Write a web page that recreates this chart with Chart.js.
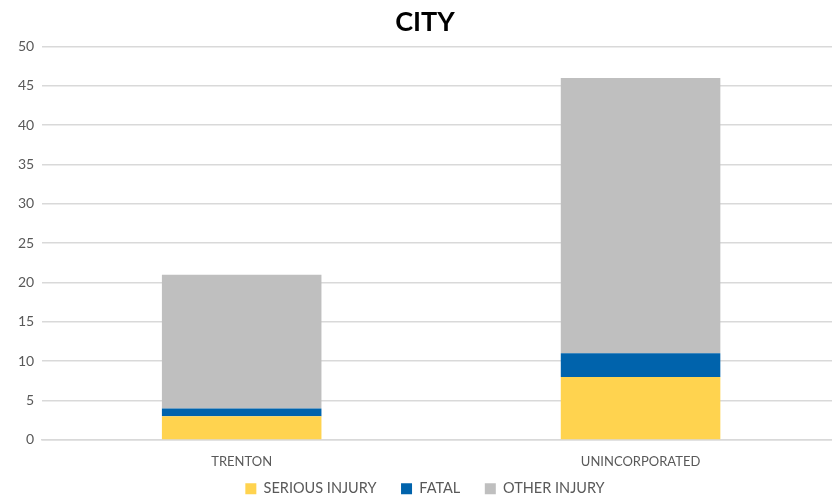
<html lang="en">
<head>
    <meta charset="UTF-8">
    <title>City</title>
    <script src="https://cdn.jsdelivr.net/npm/chart.js@4.4.1/dist/chart.umd.min.js"></script>
    <style>
        body { margin: 0; background: #fff; overflow: hidden; }
        .wrap { width: 840px; height: 504px; }
    </style>
</head>
<body>
    <div class="wrap"><canvas id="myChart"></canvas></div>

    <script>
        const categories = ['TRENTON', 'UNINCORPORATED'];
        const seriousInjury = [3, 8];
        const fatal = [1, 3];
        const otherInjury = [17, 35];
        const yTicks = [0, 5, 10, 15, 20, 25, 30, 35, 40, 45, 50];

        const fontFamily = 'Lato, "Open Sans", sans-serif';

        let ctx = document.getElementById('myChart').getContext('2d');
        let cityChart = new Chart(ctx, {
            type: 'bar',
            data: {
                labels: categories,
                datasets: [
                    { label: 'SERIOUS INJURY', data: seriousInjury, backgroundColor: '#FFD34F' },
                    { label: 'FATAL', data: fatal, backgroundColor: '#0063AC' },
                    { label: 'OTHER INJURY', data: otherInjury, backgroundColor: '#BFBFBF' }
                ]
            },
            options: {
                responsive: true,
                maintainAspectRatio: false,
                animation: false,
                layout: { padding: { left: 10, right: 0, top: 0, bottom: -2 } },
                datasets: { bar: { categoryPercentage: 0.4, barPercentage: 1.0 } },
                scales: {
                    x: {
                        stacked: true,
                        grid: { display: false },
                        border: { color: '#D9D9D9', width: 1.5 },
                        ticks: { color: '#595959', font: { family: fontFamily, size: 13 }, padding: 6 }
                    },
                    y: {
                        stacked: true,
                        min: 0,
                        max: 50,
                        afterBuildTicks: axis => { axis.ticks = yTicks.map(v => ({ value: v })); },
                        grid: { color: '#D9D9D9', lineWidth: 1.5, drawTicks: false },
                        border: { display: false },
                        ticks: { color: '#595959', font: { family: fontFamily, size: 14 }, padding: 8 }
                    }
                },
                plugins: {
                    title: {
                        display: true,
                        text: 'CITY',
                        color: '#000',
                        font: { family: fontFamily, size: 27, weight: 'bold' },
                        padding: { top: 6, bottom: 8 }
                    },
                    legend: {
                        position: 'bottom',
                        labels: {
                            color: '#595959',
                            font: { family: fontFamily, size: 14.5 },
                            boxWidth: 11,
                            boxHeight: 11,
                            padding: 6,
                            // wider gaps between items, like the original
                            generateLabels: chart => {
                                const items = Chart.defaults.plugins.legend.labels.generateLabels(chart);
                                items.forEach((it, i) => { if (i < items.length - 1) it.text += '     '; });
                                return items;
                            }
                        }
                    },
                    tooltip: { enabled: false }
                }
            }
        });
    </script>
</body>
</html>
